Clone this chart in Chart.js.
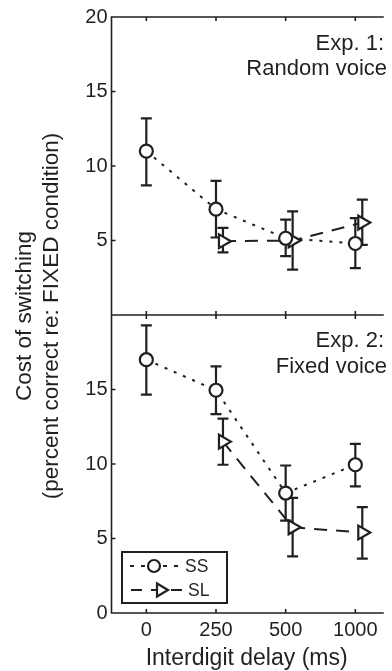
<!DOCTYPE html>
<html>
<head>
<meta charset="utf-8">
<script src="https://cdn.jsdelivr.net/npm/chart.js@4.4.0/dist/chart.umd.min.js"></script>
<style>
  html, body { margin: 0; padding: 0; background: #fff; overflow: hidden; }
  canvas { display: block; }
</style>
</head>
<body>
<canvas id="chart" width="392" height="671"></canvas>
<script>
const delays = ['0', '250', '500', '1000'];

// Exp. 1: random voice
const exp1SS = [11.0, 7.1, 5.15, 4.8];
const exp1SSLow = [8.7, 5.2, 3.95, 3.15];
const exp1SSHigh = [13.2, 9.0, 6.4, 6.5];
const exp1SL = [null, 4.95, 5.0, 6.2];
const exp1SLLow = [null, 4.2, 3.05, 4.7];
const exp1SLHigh = [null, 5.85, 6.95, 7.75];

// Exp. 2: fixed voice
const exp2SS = [17.0, 14.95, 8.05, 9.95];
const exp2SSLow = [14.65, 13.35, 6.2, 8.5];
const exp2SSHigh = [19.3, 16.55, 9.9, 11.35];
const exp2SL = [null, 11.5, 5.75, 5.4];
const exp2SLLow = [null, 9.95, 3.8, 3.65];
const exp2SLHigh = [null, 13.05, 7.72, 7.1];

const yTicksTop = [5, 10, 15, 20];
const yTicksBottom = [0, 5, 10, 15];

const INK = '#231f20';
const FONT = '"Liberation Sans", Arial, Helvetica, sans-serif';
const SL_SHIFT = 0.1; // SL markers sit a little right of the category
const SS_DASH = [3, 7];
const SL_DASH = [13, 9];

function toPoints(values, low, high, shift) {
  const pts = [];
  values.forEach((v, i) => {
    if (v === null) return;
    pts.push({ x: i + shift, y: v, lo: low[i], hi: high[i] });
  });
  return pts;
}

function ssSet(data, axis) {
  return {
    data, yAxisID: axis,
    borderColor: INK, borderWidth: 2, borderDash: SS_DASH,
    pointStyle: 'circle', pointRadius: 6.5, pointBorderWidth: 2.2,
    pointBackgroundColor: '#fff', pointBorderColor: INK,
    tension: 0, fill: false
  };
}

function slSet(data, axis) {
  return {
    data, yAxisID: axis,
    borderColor: INK, borderWidth: 2, borderDash: SL_DASH,
    pointStyle: 'triangle', pointRotation: 90, pointRadius: 8, pointBorderWidth: 2.2,
    pointBackgroundColor: '#fff', pointBorderColor: INK,
    tension: 0, fill: false
  };
}

// error bars under the markers
const errorBars = {
  id: 'errorBars',
  beforeDatasetsDraw(chart) {
    const ctx = chart.ctx;
    ctx.save();
    ctx.strokeStyle = INK;
    ctx.lineWidth = 2.2;
    chart.data.datasets.forEach((ds, di) => {
      const meta = chart.getDatasetMeta(di);
      const ys = chart.scales[ds.yAxisID];
      meta.data.forEach((pt, j) => {
        const raw = ds.data[j];
        const top = ys.getPixelForValue(raw.hi);
        const bot = ys.getPixelForValue(raw.lo);
        ctx.beginPath();
        ctx.moveTo(pt.x, top); ctx.lineTo(pt.x, bot);
        ctx.moveTo(pt.x - 5.5, top); ctx.lineTo(pt.x + 5.5, top);
        ctx.moveTo(pt.x - 5.5, bot); ctx.lineTo(pt.x + 5.5, bot);
        ctx.stroke();
      });
    });
    ctx.restore();
  }
};

// MATLAB-like frame, inward ticks, panel labels, legend and axis titles
const decorations = {
  id: 'decorations',
  afterDraw(chart) {
    const ctx = chart.ctx;
    const area = chart.chartArea;
    const xs = chart.scales.x;
    const top = chart.scales.yTop;
    const bot = chart.scales.yBot;
    const mid = top.bottom;
    ctx.save();
    ctx.strokeStyle = INK;
    ctx.lineWidth = 1.6;
    ctx.beginPath();
    ctx.moveTo(area.right + 2, area.top); ctx.lineTo(area.left, area.top);
    ctx.lineTo(area.left, area.bottom); ctx.lineTo(area.right + 2, area.bottom);
    ctx.moveTo(area.left, mid); ctx.lineTo(area.right + 2, mid);
    const tl = 4;
    delays.forEach((d, i) => {
      const px = xs.getPixelForValue(i);
      ctx.moveTo(px, area.top); ctx.lineTo(px, area.top + tl);
      ctx.moveTo(px, mid - tl); ctx.lineTo(px, mid + tl);
      ctx.moveTo(px, area.bottom); ctx.lineTo(px, area.bottom - tl);
    });
    yTicksTop.forEach(v => {
      const py = top.getPixelForValue(v);
      ctx.moveTo(area.left, py); ctx.lineTo(area.left + tl, py);
    });
    yTicksBottom.forEach(v => {
      const py = bot.getPixelForValue(v);
      ctx.moveTo(area.left, py); ctx.lineTo(area.left + tl, py);
    });
    ctx.stroke();

    // panel labels
    ctx.fillStyle = INK;
    ctx.font = '22px ' + FONT;
    ctx.textAlign = 'right';
    ctx.textBaseline = 'alphabetic';
    ctx.fillText('Exp. 1:', 384, top.top + 33);
    ctx.fillText('Random voice', 387, top.top + 58);
    ctx.fillText('Exp. 2:', 384, bot.top + 32);
    ctx.fillText('Fixed voice', 387, bot.top + 58);

    // axis titles
    ctx.font = '23px ' + FONT;
    ctx.textAlign = 'center';
    ctx.fillText('Interdigit delay (ms)', (area.left + area.right) / 2, 665);
    ctx.save();
    ctx.translate(0, (area.top + area.bottom) / 2 + 1);
    ctx.rotate(-Math.PI / 2);
    ctx.textBaseline = 'middle';
    ctx.font = '22.5px ' + FONT;
    ctx.fillText('Cost of switching', 0, 25);
    ctx.fillText('(percent correct re: FIXED condition)', 0, 52);
    ctx.restore();

    // legend
    const lx = 122, ly = 552, lw = 105, lh = 51;
    ctx.fillStyle = '#fff';
    ctx.fillRect(lx, ly, lw, lh);
    ctx.lineWidth = 2;
    ctx.strokeRect(lx, ly, lw, lh);
    const r1 = ly + 14, r2 = ly + 38;
    ctx.lineWidth = 2;
    ctx.setLineDash([4, 7]);
    ctx.beginPath(); ctx.moveTo(130, r1); ctx.lineTo(180, r1); ctx.stroke();
    ctx.setLineDash([11, 9]);
    ctx.beginPath(); ctx.moveTo(131, r2); ctx.lineTo(186, r2); ctx.stroke();
    ctx.setLineDash([]);
    ctx.lineWidth = 2.2;
    ctx.beginPath(); ctx.arc(154, r1, 6, 0, Math.PI * 2);
    ctx.fill(); ctx.stroke();
    ctx.beginPath();
    ctx.moveTo(168, r2); ctx.lineTo(157, r2 - 6.5); ctx.lineTo(157, r2 + 6.5); ctx.closePath();
    ctx.fill(); ctx.stroke();
    ctx.fillStyle = INK;
    ctx.font = '17.5px ' + FONT;
    ctx.textAlign = 'left';
    ctx.textBaseline = 'middle';
    ctx.fillText('SS', 185, r1 + 1);
    ctx.fillText('SL', 188, r2 + 1);
    ctx.restore();
  }
};

Chart.defaults.font.family = FONT;
Chart.defaults.color = INK;

new Chart(document.getElementById('chart'), {
  type: 'line',
  data: {
    datasets: [
      ssSet(toPoints(exp2SS, exp2SSLow, exp2SSHigh, 0), 'yBot'),
      slSet(toPoints(exp2SL, exp2SLLow, exp2SLHigh, SL_SHIFT), 'yBot'),
      ssSet(toPoints(exp1SS, exp1SSLow, exp1SSHigh, 0), 'yTop'),
      slSet(toPoints(exp1SL, exp1SLLow, exp1SLHigh, SL_SHIFT), 'yTop')
    ]
  },
  options: {
    responsive: false,
    devicePixelRatio: 1,
    animation: false,
    layout: { padding: { top: 17, right: 0, left: 0, bottom: 0 } },
    plugins: { legend: { display: false }, tooltip: { enabled: false } },
    scales: {
      x: {
        type: 'linear', min: -0.5, max: 3.38,
        afterBuildTicks: s => { s.ticks = delays.map((d, i) => ({ value: i })); },
        afterFit: s => { s.height = 58; },
        ticks: { callback: v => delays[v], font: { size: 20 }, padding: 5, maxRotation: 0 },
        grid: { display: false, drawTicks: false },
        border: { display: false }
      },
      yBot: {
        type: 'linear', position: 'left', stack: 'panels', stackWeight: 1,
        min: 0, max: 20,
        afterBuildTicks: s => { s.ticks = yTicksBottom.map(v => ({ value: v })); },
        afterFit: s => { s.width = 111.5; },
        ticks: { font: { size: 20 }, padding: 4 },
        grid: { display: false, drawTicks: false },
        border: { display: false }
      },
      yTop: {
        type: 'linear', position: 'left', stack: 'panels', stackWeight: 1,
        min: 0, max: 20,
        afterBuildTicks: s => { s.ticks = yTicksTop.map(v => ({ value: v })); },
        afterFit: s => { s.width = 111.5; },
        ticks: { font: { size: 20 }, padding: 4 },
        grid: { display: false, drawTicks: false },
        border: { display: false }
      }
    }
  },
  plugins: [errorBars, decorations]
});
</script>
</body>
</html>
